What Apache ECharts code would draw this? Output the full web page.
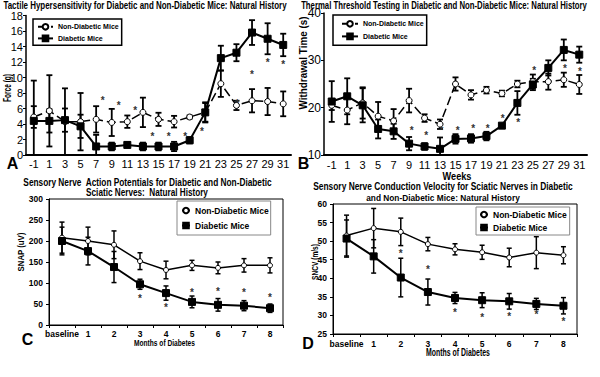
<!DOCTYPE html>
<html><head><meta charset="utf-8">
<script src="https://cdn.jsdelivr.net/npm/echarts@6/dist/echarts.min.js"></script>
<style>html,body{margin:0;padding:0;background:#fff}#c{width:600px;height:377px}</style>
</head><body><div id="c"></div>
<script>
// ---------- data ----------
const weeks = ['-1','1','3','5','7','9','11','13','15','17','19','21','23','25','27','29','31'];
const months = ['baseline','1','2','3','4','5','6','7','8'];

// A: tactile hypersensitivity, force (g)
const tactileNonDiab    = [4.9,5.7,4.3,4.3,4.6,4.2,4.3,5.5,4.6,4.3,4.9,5.5,9.2,6.4,7.0,6.9,6.6];
const tactileNonDiabErr = [1.4,4.6,4.3,3.7,1.7,1.75,0.8,1.9,0.85,0.75,0.2,1.2,1.7,0.6,1.5,1.75,1.6];
const tactileDiab       = [4.4,4.4,4.5,3.7,1.1,1.1,1.3,1.1,1.1,1.1,1.9,5.5,12.5,13.2,15.8,15.0,14.2];
const tactileDiabErr    = [5.2,1.5,1.5,1.5,1.5,0.5,0.3,0.5,0.5,0.6,0.4,1.3,1.6,1.1,1.6,2.0,1.45];
// asterisks: [category index, value, shift in category widths]
const tactileStars = [[4,7.3,0.42],[5,6.6,0.45],[6,5.95,0.5],[7,2.6,0.62],[8,2.7,0.65],[9,2.6,0.72],[10,3.35,0.78],[13,6.9,0.05],[14,10.6,0],[15,12.2,0],[16,11.9,0]];

// B: thermal threshold, withdrawal time (s)
const thermalNonDiab    = [20.5,19.5,21.0,18.2,17.2,21.5,17.8,16.5,25.0,22.7,23.7,23.0,25.0,25.5,25.5,25.9,24.9];
const thermalNonDiabErr = [1.0,3.0,3.3,3.0,2.5,2.5,0.8,1.0,1.4,1.0,0.7,0.6,0.7,1.5,1.7,1.5,2.0];
const thermalDiab       = [21.3,22.4,20.5,15.5,15.0,12.4,11.8,11.3,13.4,13.5,14.0,16.2,21.0,24.9,28.4,32.2,31.2];
const thermalDiabErr    = [4.3,3.8,3.6,2.0,1.6,1.4,0.7,2.4,1.0,0.9,0.9,0.3,2.5,1.2,1.6,2.2,1.7];
const thermalStars = [[5,15.6,0.17],[6,14.6,0.1],[7,15.6,0.1],[8,15.6,0.14],[9,16.0,0.15],[10,16.0,0.08],[11,18.2,0.05],[12,17.2,0.06],[13,28.3,0.08],[15,28.7,0.08],[16,28.1,0.05]];

// C: SNAP (uV)
const snapNonDiab    = [208,200,191,152,131,142,136,142,142];
const snapNonDiabErr = [37,33,33,20,21,12,14,16,18];
const snapDiab       = [200,176,138,97,76,55,48,46,40];
const snapDiabErr    = [33,33,37,12,17,14,15,12,10];
const snapStars = [[3,67,0],[4,46,0],[5,83,0],[6,85,0],[7,81,0],[8,71,0]];

// D: SNCV (m/s)
const sncvNonDiab    = [51.5,53.5,52.5,49.2,47.8,47.0,45.6,46.9,46.2];
const sncvNonDiabErr = [5.5,5.3,3.7,1.8,1.5,1.9,2.5,4.3,2.3];
const sncvDiab       = [50.7,45.9,40.2,36.3,34.7,34.1,33.8,33.1,32.6];
const sncvDiabErr    = [5.0,4.5,5.2,3.5,1.5,2.0,2.1,1.5,2.2];
const sncvStars = [[2,47.3,0],[3,42.9,0],[4,31.3,0],[5,29.9,0],[6,30.3,0],[7,30.7,0],[8,28.8,0]];

// ---------- helpers ----------
const FONT = "'Liberation Sans', Arial, sans-serif";
const legendNames = {ndA:'Non-Diabetic Mice', dA:'Diabetic Mice', ndB:'Non-Diabetic Mice', dB:'Diabetic Mice',
  ndC:'Non-Diabetic Mice', dC:'Diabetic Mice', ndD:'Non-Diabetic Mice', dD:'Diabetic Mice'};
const measureCtx = document.createElement('canvas').getContext('2d');

function errData(vals, errs, floor){
  return vals.map((v,i)=>[i, Math.max(floor, v-errs[i]), v+errs[i]]);
}
function errRender(cap, lw){
  return function(params, api){
    const x = api.value(0);
    const p1 = api.coord([x, api.value(1)]), p2 = api.coord([x, api.value(2)]);
    const st = {stroke:'#000', lineWidth:lw};
    return {type:'group', children:[
      {type:'line', shape:{x1:p1[0],y1:p1[1],x2:p2[0],y2:p2[1]}, style:st},
      {type:'line', shape:{x1:p1[0]-cap,y1:p1[1],x2:p1[0]+cap,y2:p1[1]}, style:st},
      {type:'line', shape:{x1:p2[0]-cap,y1:p2[1],x2:p2[0]+cap,y2:p2[1]}, style:st}
    ]};
  };
}
function starRender(params, api){
  const p = api.coord([api.value(0), api.value(1)]);
  const bw = api.size([1,0])[0];
  return {type:'text', x:p[0]+api.value(2)*bw, y:p[1]+2,
    style:{text:'*', fill:'#333', font:'bold 10px '+FONT, align:'center', verticalAlign:'middle'}};
}
function lineSeries(name, data, idx, dashed, diab, lw, size){
  return {type:'line', name, data, xAxisIndex:idx, yAxisIndex:idx, z:4,
    symbol: diab ? 'rect' : 'circle', symbolSize: size,
    lineStyle:{color:'#000', width:lw, type: dashed ? [9,4] : 'solid'},
    itemStyle:{color: diab ? '#000' : '#fff', borderColor:'#000', borderWidth:1},
    emphasis:{disabled:true}, animation:false};
}
function errSeries(vals, errs, floor, idx, cap, lw){
  return {type:'custom', data: errData(vals, errs, floor), xAxisIndex:idx, yAxisIndex:idx, z:2,
    renderItem: errRender(cap, lw), silent:true, animation:false};
}
function starSeries(stars, idx){
  return {type:'custom', data: stars, xAxisIndex:idx, yAxisIndex:idx, z:5, renderItem: starRender, silent:true, animation:false};
}
// text squeezed horizontally to the width it has in the reference
function fitText(x, y, text, size, width, rot){
  const font = 'bold ' + size + 'px ' + FONT;
  measureCtx.font = font;
  const w = measureCtx.measureText(text).width || width;
  return {type:'text', x, y, rotation: rot||0, scaleX: Math.min(1, width / w), silent:true,
    style:{text, font, fill:'#000', align:'center', verticalAlign:'middle'}};
}
function gtext(x, y, text, size){
  return {type:'text', x, y, silent:true,
    style:{text, font:'bold '+size+'px '+FONT, fill:'#000', align:'center', verticalAlign:'middle'}};
}
function legendCfg(names, left, top, padding, gap, iw, fs, border, bw){
  return {data:names, orient:'vertical', left, top, padding, itemGap:gap, itemWidth:iw, itemHeight:7,
    borderColor:border, borderWidth:bw, formatter:n=>legendNames[n], selectedMode:false,
    textStyle:{fontSize:fs, fontWeight:'bold', fontFamily:FONT, color:'#000'}};
}
const xLab = (fs, bold, margin) => ({color:'#000', fontSize:fs, fontWeight: bold?'bold':'normal', fontFamily:FONT, margin, interval:0, hideOverlap:false});

const chart = echarts.init(document.getElementById('c'), null, {renderer:'svg'});
const option = {
  backgroundColor:'#fff',
  animation:false,
  grid:[
    {left:26, top:15.5, width:265, height:139.5},
    {left:324, top:13, width:263, height:142},
    {left:49, top:199, width:234, height:126, show:true, borderColor:'#000', borderWidth:1},
    {left:333, top:204, width:244, height:130, show:true, borderColor:'#000', borderWidth:1}
  ],
  xAxis:[
    {type:'category', gridIndex:0, data:weeks, axisLine:{lineStyle:{color:'#000', width:2}}, axisTick:{show:false}, axisLabel:xLab(11,false,3)},
    {type:'category', gridIndex:1, data:weeks, axisLine:{lineStyle:{color:'#000', width:2}}, axisTick:{show:false}, axisLabel:xLab(11,false,4)},
    {type:'category', gridIndex:2, data:months, axisLine:{lineStyle:{color:'#000', width:1}}, axisTick:{show:true, length:3, lineStyle:{color:'#000'}}, axisLabel:xLab(8.5,true,4)},
    {type:'category', gridIndex:3, data:months, axisLine:{lineStyle:{color:'#000', width:1}}, axisTick:{show:true, length:3, lineStyle:{color:'#000'}}, axisLabel:xLab(8.5,true,5)}
  ],
  yAxis:[
    {type:'value', gridIndex:0, min:0, max:18, interval:2, splitLine:{show:false},
      axisLine:{show:true, lineStyle:{color:'#000', width:1.5}}, axisTick:{show:true, length:3, lineStyle:{color:'#000'}},
      axisLabel:{color:'#000', fontSize:11, fontFamily:FONT, margin:3}},
    {type:'value', gridIndex:1, min:10, max:40, interval:10, splitLine:{show:false},
      axisLine:{show:true, lineStyle:{color:'#000', width:1.5}}, axisTick:{show:true, length:3, lineStyle:{color:'#000'}},
      axisLabel:{color:'#000', fontSize:12, fontFamily:FONT, margin:3}},
    {type:'value', gridIndex:2, min:0, max:300, interval:50, splitLine:{show:false},
      axisLine:{show:true, lineStyle:{color:'#000', width:1}}, axisTick:{show:true, length:3, lineStyle:{color:'#000'}},
      axisLabel:{color:'#000', fontSize:8.5, fontWeight:'bold', fontFamily:FONT, margin:6}},
    {type:'value', gridIndex:3, min:25, max:60, interval:5, splitLine:{show:false},
      axisLine:{show:true, lineStyle:{color:'#000', width:1}}, axisTick:{show:true, length:3, lineStyle:{color:'#000'}},
      axisLabel:{color:'#000', fontSize:8.5, fontWeight:'bold', fontFamily:FONT, margin:6}}
  ],
  legend:[
    legendCfg(['ndA','dA'], 33, 19, [4,3,3,4], 4, 15, 7, '#000', 1.5),
    legendCfg(['ndB','dB'], 333, 15, [5,3,5,8], 5, 16, 7, '#000', 1.5),
    legendCfg(['ndC','dC'], 177, 201, [5,2,5,4], 6, 8, 8.5, '#888', 1),
    legendCfg(['ndD','dD'], 476, 207, [3,3,3,3], 4, 8, 8.5, '#888', 1)
  ],
  series:[
    errSeries(tactileNonDiab, tactileNonDiabErr, 0, 0, 3, 1.8),
    errSeries(tactileDiab, tactileDiabErr, 0, 0, 3, 1.8),
    lineSeries('ndA', tactileNonDiab, 0, true, false, 1.5, 6),
    lineSeries('dA', tactileDiab, 0, false, true, 2, 7),
    starSeries(tactileStars, 0),

    errSeries(thermalNonDiab, thermalNonDiabErr, 10, 1, 3, 1.8),
    errSeries(thermalDiab, thermalDiabErr, 10, 1, 3, 1.8),
    lineSeries('ndB', thermalNonDiab, 1, true, false, 1.5, 6),
    lineSeries('dB', thermalDiab, 1, false, true, 2, 7),
    starSeries(thermalStars, 1),

    errSeries(snapNonDiab, snapNonDiabErr, 0, 2, 2.5, 1.5),
    errSeries(snapDiab, snapDiabErr, 0, 2, 2.5, 1.5),
    lineSeries('ndC', snapNonDiab, 2, false, false, 1.5, 5),
    lineSeries('dC', snapDiab, 2, false, true, 2, 7),
    starSeries(snapStars, 2),

    errSeries(sncvNonDiab, sncvNonDiabErr, 25, 3, 2.5, 1.5),
    errSeries(sncvDiab, sncvDiabErr, 25, 3, 2.5, 1.5),
    lineSeries('ndD', sncvNonDiab, 3, false, false, 1.5, 5),
    lineSeries('dD', sncvDiab, 3, false, true, 2, 7),
    starSeries(sncvStars, 3)
  ],
  graphic:[
    fitText(145, 6, 'Tactile Hypersensitivity for Diabetic and Non-Diabetic Mice: Natural History', 10, 284),
    fitText(444, 6, 'Thermal Threshold Testing in Diabetic and Non-Diabetic Mice: Natural History', 10, 286),
    fitText(147.5, 183, 'Sensory Nerve  Action Potentials for Diabetic and Non-Diabetic', 10, 249),
    fitText(147, 192.5, 'Sciatic Nerves:  Natural History', 10, 122),
    fitText(443, 187, 'Sensory Nerve Conduction Velocity for Sciatic Nerves in Diabetic', 10, 260),
    fitText(443, 197.5, 'and Non-Diabetic Mice: Natural History', 10, 154),
    fitText(7, 88, 'Force (g)', 10, 28, Math.PI/2),
    fitText(303, 63, 'Withdrawal Time (s)', 10, 93, Math.PI/2),
    fitText(457, 176, 'Weeks', 11, 29),
    fitText(21, 252, 'SNAP (uV)', 9, 39, Math.PI/2),
    fitText(164.5, 343, 'Months of Diabetes', 9.5, 61),
    fitText(315, 262, 'SNCV (m/s)', 9.5, 36, Math.PI/2),
    fitText(458, 352, 'Months of Diabetes', 11, 64),
    gtext(12.5, 163, 'A', 16),
    gtext(303.5, 163, 'B', 16),
    gtext(27.5, 339, 'C', 16),
    gtext(308, 343, 'D', 16)
  ]
};
chart.setOption(option);
</script>
</body></html>
